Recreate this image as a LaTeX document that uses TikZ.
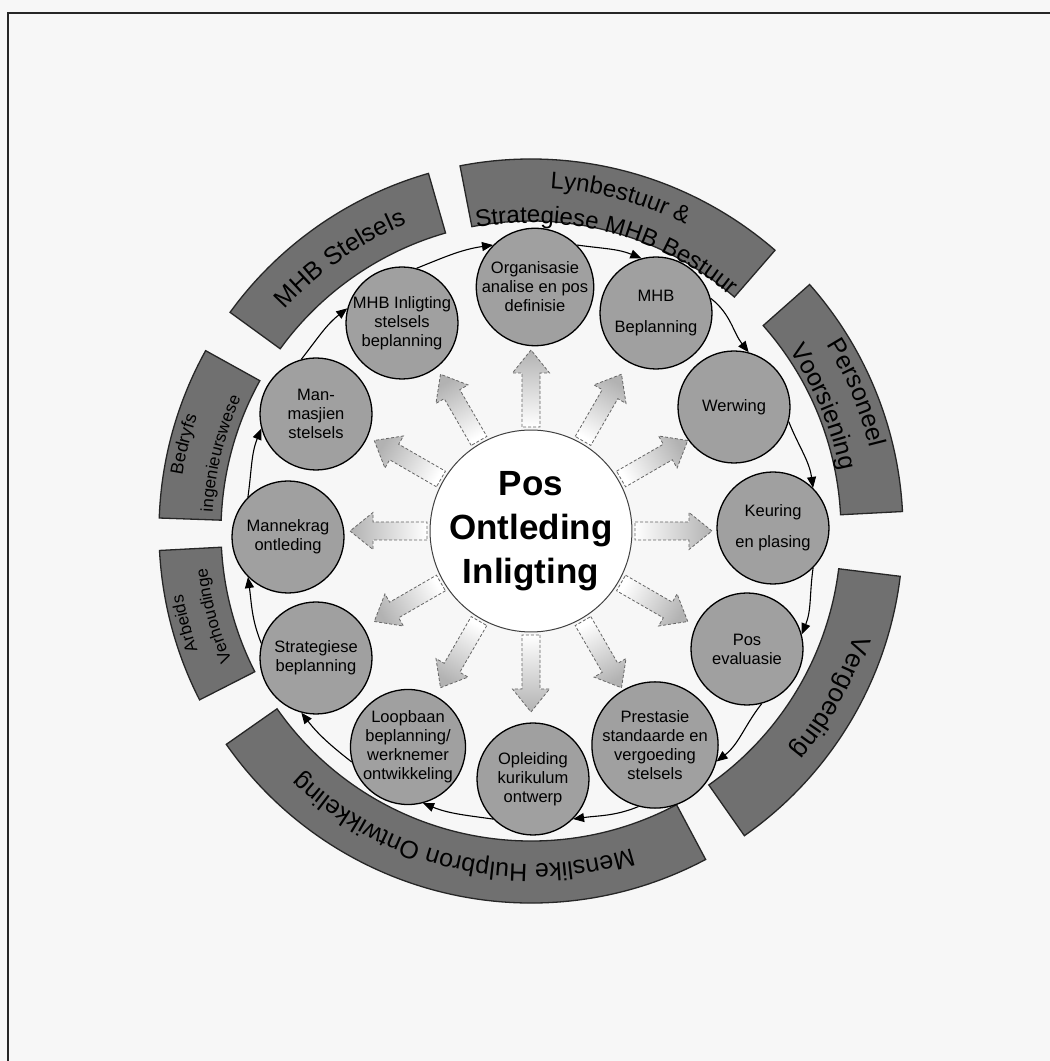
\documentclass[tikz,border=0pt]{standalone}
\usepackage{fontspec}
\setmainfont{Liberation Sans}
\usetikzlibrary{arrows.meta,calc,decorations.text}

\definecolor{paper}{HTML}{F7F7F7}
\definecolor{bandgray}{HTML}{707070}
\definecolor{discgray}{HTML}{A0A0A0}
\definecolor{raytip}{HTML}{B2B2B2}

\newcommand\bandtext[4]{% radius, start angle, end angle, text (clockwise arc)
  \path[decorate, decoration={text along path, text align=center, text={#4}}]
    ($(O)+(#2:#1)$) arc[start angle=#2, end angle=#3, radius=#1];}

\begin{document}
\begin{tikzpicture}[x=1pt,y=1pt,
  disc/.style={circle, draw=black, line width=1.3pt, fill=discgray, minimum size=112pt,
    inner sep=0pt, align=center, font=\fontsize{16.5}{19}\selectfont},
  hub/.style={circle, draw=black!75, line width=1pt, fill=white, minimum size=200pt,
    inner sep=0pt, align=center, font=\fontsize{35}{44}\selectfont\bfseries},
  flow/.style={-{Triangle[length=11pt,width=9pt]}, line width=1.1pt},
  ray/.style={draw=black!60, dash pattern=on 3pt off 2pt, line width=0.8pt,
    bottom color=white, top color=raytip},
  band/.style={fill=bandgray, draw=black!85, line width=1.3pt},
]
% page and frame
\fill[paper] (0,0) rectangle (1050,1061);
\useasboundingbox (0,0) rectangle (1050,1061);
\draw[line width=1.8pt, black!85] (8,0) -- (8,1048) -- (1050,1048);

\coordinate (O) at (531,530);

% outer bands
\foreach \s/\e in {106/144, 49/101, 3/41.5, -55/-7, -145/-62, 183/207, 151/178}{
  \path[band] ($(O)+(\s:310)$) arc[start angle=\s, end angle=\e, radius=310]
    -- ($(O)+(\e:372)$) arc[start angle=\e, end angle=\s, radius=372] -- cycle;
}

% band labels, read clockwise
\bandtext{331}{165}{85}{|\fontsize{25}{25}\selectfont|MHB Stelsels}
\bandtext{343}{115}{35}{|\fontsize{24}{24}\selectfont|Lynbestuur {\&}}
\bandtext{308}{115}{35}{|\fontsize{24}{24}\selectfont|Strategiese MHB Bestuur}
\bandtext{349}{63}{-17}{|\fontsize{25}{25}\selectfont|Personeel}
\bandtext{315}{63}{-17}{|\fontsize{25}{25}\selectfont|Voorsiening}
\bandtext{340}{11}{-69}{|\fontsize{26}{26}\selectfont|Vergoeding}
\bandtext{333}{-53}{-153}{|\fontsize{25}{25}\selectfont|Menslike Hulpbron Ontwikkeling}
\bandtext{354}{225}{165}{|\fontsize{17}{17}\selectfont|Arbeids}
\bandtext{326}{225}{165}{|\fontsize{17}{17}\selectfont|Verhoudinge}
\bandtext{353}{196}{136}{|\fontsize{18}{18}\selectfont|Bedryfs}
\bandtext{319}{196}{136}{|\fontsize{17}{17}\selectfont|ingenieurswese}

% radial block arrows
\foreach \ang in {0,30,...,330}{
  \pgfmathsetmacro\sh{\ang-90}
  \path[ray, shading angle=\sh]
    ($(O)+(\ang:104)+(\ang+90:9)$) -- ($(O)+(\ang:158)+(\ang+90:9)$)
    -- ($(O)+(\ang:158)+(\ang+90:18.5)$) -- ($(O)+(\ang:181)$)
    -- ($(O)+(\ang:158)+(\ang-90:18.5)$) -- ($(O)+(\ang:158)+(\ang-90:9)$)
    -- ($(O)+(\ang:104)+(\ang-90:9)$) -- cycle;
}

% hub
\node[hub] (hub) at (O) {Pos\\Ontleding\\Inligting};

% ring of activities
\node[disc] (org)     at (535,774) {Organisasie\\analise en pos\\definisie};
\node[disc] (mhbb)    at (656,748) {MHB\\[12pt]Beplanning};
\node[disc] (werw)    at (734,654) {Werwing};
\node[disc] (keur)    at (773,533) {Keuring\\[12pt]en plasing};
\node[disc] (poseval) at (747,412) {Pos\\evaluasie};
\node[disc] (prest)   at (655,316) {Prestasie\\standaarde en\\vergoeding\\stelsels};
\node[disc] (opl)     at (533,282) {Opleiding\\kurikulum\\ontwerp};
\node[disc] (loop)    at (408,314) {Loopbaan\\beplanning/\\werknemer\\ontwikkeling};
\node[disc] (strat)   at (316,403) {Strategiese\\beplanning};
\node[disc] (mann)    at (288,524) {Mannekrag\\ontleding};
\node[disc] (manm)    at (316,647) {Man-\\masjien\\stelsels};
\node[disc] (mhbi)    at (402,738) {MHB Inligting\\stelsels\\beplanning};

% clockwise links between neighbouring activities
\foreach \a/\b/\ang in {org/mhbb/90, mhbb/werw/60, werw/keur/30, keur/poseval/0,
    poseval/prest/-30, prest/opl/-60, opl/loop/-90, loop/strat/-120,
    strat/mann/-150, mann/manm/-180, manm/mhbi/-210, mhbi/org/-240}{
  \pgfmathsetmacro\sa{\ang-45}
  \pgfmathsetmacro\ea{\ang+15}
  \pgfmathsetmacro\oa{\ang-98}
  \pgfmathsetmacro\ia{\ang+68}
  \draw[flow] (\a.\sa) to[out=\oa, in=\ia] (\b.\ea);
}
\end{tikzpicture}
\end{document}
